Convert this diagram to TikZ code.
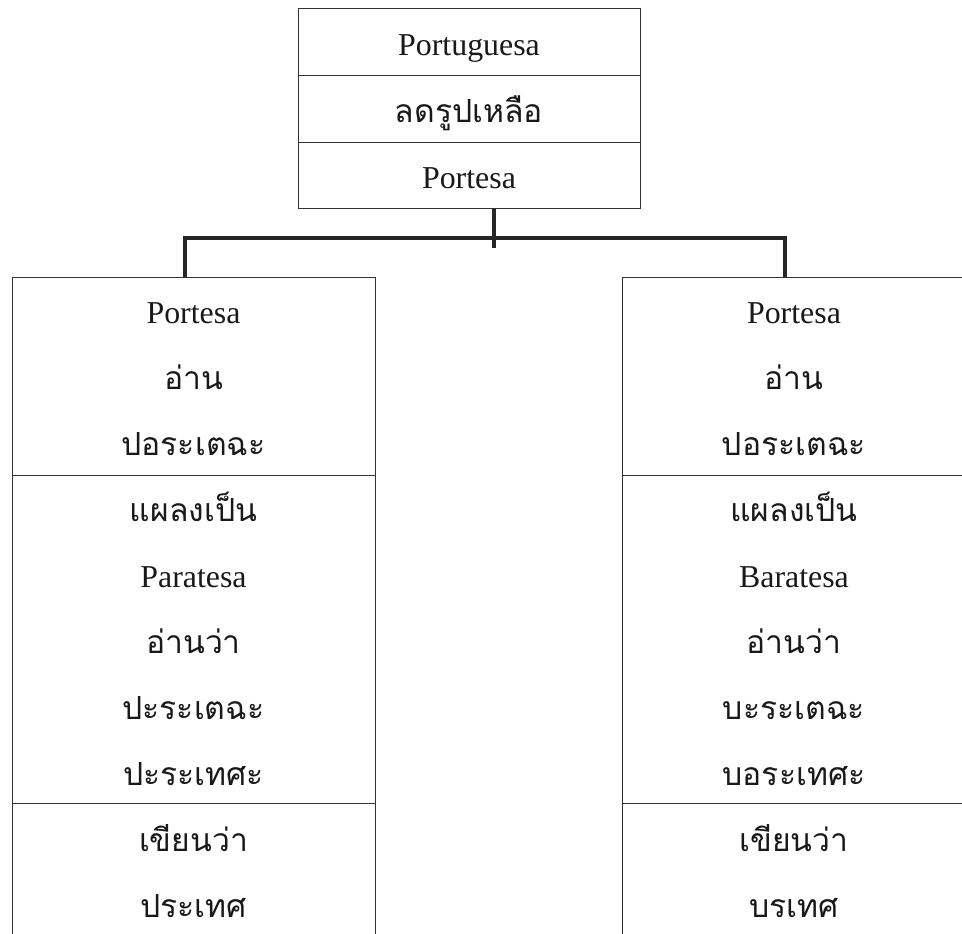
\documentclass[tikz,border=0pt]{standalone}
\usepackage{fontspec}
\setmainfont{Liberation Serif}
\newfontfamily\thaifont[Script=Thai]{Loma}
\begin{document}
\begin{tikzpicture}[x=1bp,y=-1bp,
  cell/.style={draw=black!80, line width=1.3bp, inner sep=0pt, anchor=north west},
  conn/.style={draw=black!85, line width=3.2bp, line join=miter},
  lat/.style={anchor=base, inner sep=0pt, text=black!90, font=\fontsize{32}{38}\selectfont},
  th/.style={anchor=base, inner sep=0pt, text=black!90, font=\thaifont\fontsize{32}{38}\selectfont}]
\useasboundingbox (0,0) rectangle (962,934);
\clip (0,0) rectangle (962,934);
% top box
\node[cell, minimum width=342bp, minimum height=67bp] (top1) at (298,8) {};
\node[cell, minimum width=342bp, minimum height=67bp] (top2) at (298,75) {};
\node[cell, minimum width=342bp, minimum height=66bp] (top3) at (298,142) {};
\node[lat] (tt1) at (469,55) {Portuguesa};
\node[th] (tt2) at (469,122) {ลดรูปเหลือ};
\node[lat] (tt3) at (469,188) {Portesa};
% left box
\node[cell, minimum width=363bp, minimum height=198bp] (l1) at (12,277) {};
\node[cell, minimum width=363bp, minimum height=328bp] (l2) at (12,475) {};
\node[cell, minimum width=363bp, minimum height=160bp] (l3) at (12,803) {};
\node[lat] (la) at (193.5,323) {Portesa};
\node[th] (lb) at (193.5,389) {อ่าน};
\node[th] (lc) at (193.5,455) {ปอระเตฉะ};
\node[th] (ld) at (193.5,521) {แผลงเป็น};
\node[lat] (le) at (193.5,587) {Paratesa};
\node[th] (lf) at (193.5,653) {อ่านว่า};
\node[th] (lg) at (193.5,719) {ปะระเตฉะ};
\node[th] (lh) at (193.5,785) {ปะระเทศะ};
\node[th] (li) at (193.5,851) {เขียนว่า};
\node[th] (lj) at (193.5,917) {ประเทศ};
% right box
\node[cell, minimum width=344bp, minimum height=198bp] (r1) at (622,277) {};
\node[cell, minimum width=344bp, minimum height=328bp] (r2) at (622,475) {};
\node[cell, minimum width=344bp, minimum height=160bp] (r3) at (622,803) {};
\node[lat] (ra) at (794,323) {Portesa};
\node[th] (rb) at (794,389) {อ่าน};
\node[th] (rc) at (794,455) {ปอระเตฉะ};
\node[th] (rd) at (794,521) {แผลงเป็น};
\node[lat] (re) at (794,587) {Baratesa};
\node[th] (rf) at (794,653) {อ่านว่า};
\node[th] (rg) at (794,719) {บะระเตฉะ};
\node[th] (rh) at (794,785) {บอระเทศะ};
\node[th] (ri) at (794,851) {เขียนว่า};
\node[th] (rj) at (794,917) {บรเทศ};
% connectors
\coordinate (j) at (494,238);
\coordinate (jb) at (494,248);
\coordinate (hl) at (185,238);
\coordinate (hr) at (785,238);
\draw[conn] (top3.south -| j) -- (jb);
\draw[conn] (l1.north -| hl) -- (hl) -- (hr) -- (r1.north -| hr);
\end{tikzpicture}
\end{document}
